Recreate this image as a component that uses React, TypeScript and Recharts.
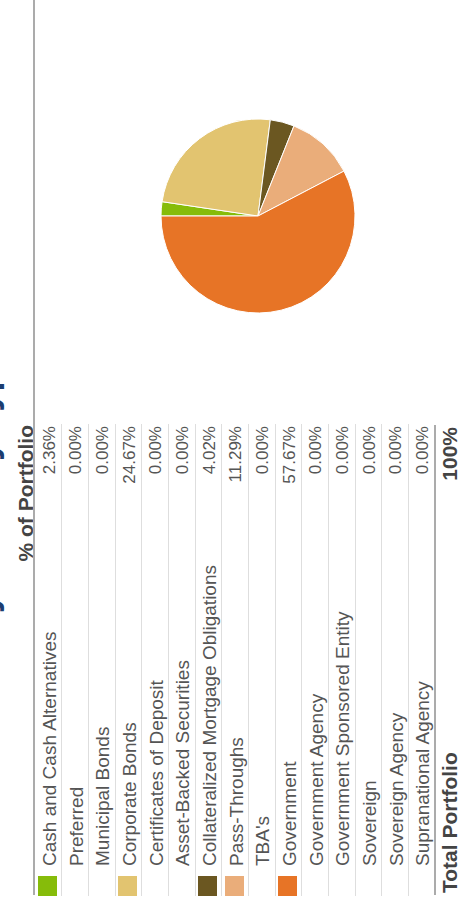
import { PieChart, Pie, Cell } from "recharts";

// rows of the holdings table, top to bottom
const categories = [
  "Cash and Cash Alternatives",
  "Preferred",
  "Municipal Bonds",
  "Corporate Bonds",
  "Certificates of Deposit",
  "Asset-Backed Securities",
  "Collateralized Mortgage Obligations",
  "Pass-Throughs",
  "TBA's",
  "Government",
  "Government Agency",
  "Government Sponsored Entity",
  "Sovereign",
  "Sovereign Agency",
  "Supranational Agency",
];
const weights = [2.36, 0, 0, 24.67, 0, 0, 4.02, 11.29, 0, 57.67, 0, 0, 0, 0, 0];
const swatches: (string | null)[] = [
  "#86bc0a", null, null, "#e2c470", null, null, "#6b5721",
  "#eaad7a", null, "#e77426", null, null, null, null, null,
];
const title = "Diversification by Security Type";
const valueHeader = "% of Portfolio";
const totalLabel = "Total Portfolio";
const totalValue = "100%";

const ROW_TOP = 35;
const ROW_H = 26.67;
const COL_RIGHT = 476;

export default function App() {
  const pieData = categories
    .map((name, i) => ({ name, value: weights[i], color: swatches[i] }))
    .filter((d) => d.value > 0);

  return (
    <>
      <style>{"body{margin:0;overflow:hidden;background:#fff}"}</style>
      {/* laid out landscape, then turned a quarter counter-clockwise */}
      <div
        style={{
          position: "absolute",
          left: 0,
          top: 0,
          width: 901,
          height: 460,
          overflow: "hidden",
          background: "#fff",
          transformOrigin: "0 0",
          transform: "translate(0px, 901px) rotate(-90deg)",
          fontFamily: '"Liberation Sans", Arial, sans-serif',
        }}
      >
        {/* title, mostly cut off by the top edge */}
        <div
          style={{
            position: "absolute",
            left: 8,
            top: -34,
            fontSize: 36,
            lineHeight: "36px",
            fontWeight: "bold",
            color: "#1c3d70",
            whiteSpace: "nowrap",
          }}
        >
          {title}
        </div>

        <div
          style={{
            position: "absolute",
            left: 200,
            width: COL_RIGHT - 200,
            top: 14.7,
            fontSize: 21,
            lineHeight: "21px",
            fontWeight: "bold",
            color: "#444",
            textAlign: "right",
          }}
        >
          {valueHeader}
        </div>
        <div style={{ position: "absolute", left: 6, width: 895, top: 33, height: 2, background: "#ababab" }} />

        {categories.map((name, i) => {
          const top = ROW_TOP + i * ROW_H;
          return (
            <div key={name}>
              {swatches[i] && (
                <div
                  style={{
                    position: "absolute",
                    left: 5,
                    width: 20,
                    top: top + 3,
                    height: 19,
                    background: swatches[i] as string,
                  }}
                />
              )}
              <div
                style={{
                  position: "absolute",
                  left: 35,
                  top: top + 4.9,
                  fontSize: 19,
                  lineHeight: "19px",
                  color: "#555",
                  whiteSpace: "nowrap",
                }}
              >
                {name}
              </div>
              <div
                style={{
                  position: "absolute",
                  left: 330,
                  width: COL_RIGHT - 1 - 330,
                  top: top + 5.6,
                  fontSize: 17,
                  lineHeight: "17px",
                  color: "#555",
                  textAlign: "right",
                }}
              >
                {weights[i].toFixed(2)}%
              </div>
              {i < categories.length - 1 && (
                <div
                  style={{
                    position: "absolute",
                    left: 5,
                    width: COL_RIGHT - 4,
                    top: top + ROW_H - 0.5,
                    height: 1,
                    background: "#dedede",
                  }}
                />
              )}
            </div>
          );
        })}

        <div style={{ position: "absolute", left: 6, width: COL_RIGHT - 6, top: 434, height: 2, background: "#ababab" }} />
        <div
          style={{
            position: "absolute",
            left: 8,
            top: 442.2,
            fontSize: 21,
            lineHeight: "16px",
            fontWeight: "bold",
            color: "#444",
            whiteSpace: "nowrap",
          }}
        >
          {totalLabel}
        </div>
        <div
          style={{
            position: "absolute",
            left: 330,
            width: COL_RIGHT - 2 - 330,
            top: 442.2,
            fontSize: 21,
            lineHeight: "16px",
            fontWeight: "bold",
            color: "#444",
            textAlign: "right",
          }}
        >
          {totalValue}
        </div>

        <div style={{ position: "absolute", left: 565, top: 138 }}>
          <PieChart width={240} height={240} margin={{ top: 0, right: 0, bottom: 0, left: 0 }}>
            <Pie
              data={pieData}
              cx={120}
              cy={120}
              outerRadius={97}
              startAngle={90}
              endAngle={-270}
              dataKey="value"
              stroke="#fff"
              strokeWidth={1}
              isAnimationActive={false}
            >
              {pieData.map((d) => (
                <Cell key={d.name} fill={d.color as string} />
              ))}
            </Pie>
          </PieChart>
        </div>
      </div>
    </>
  );
}
